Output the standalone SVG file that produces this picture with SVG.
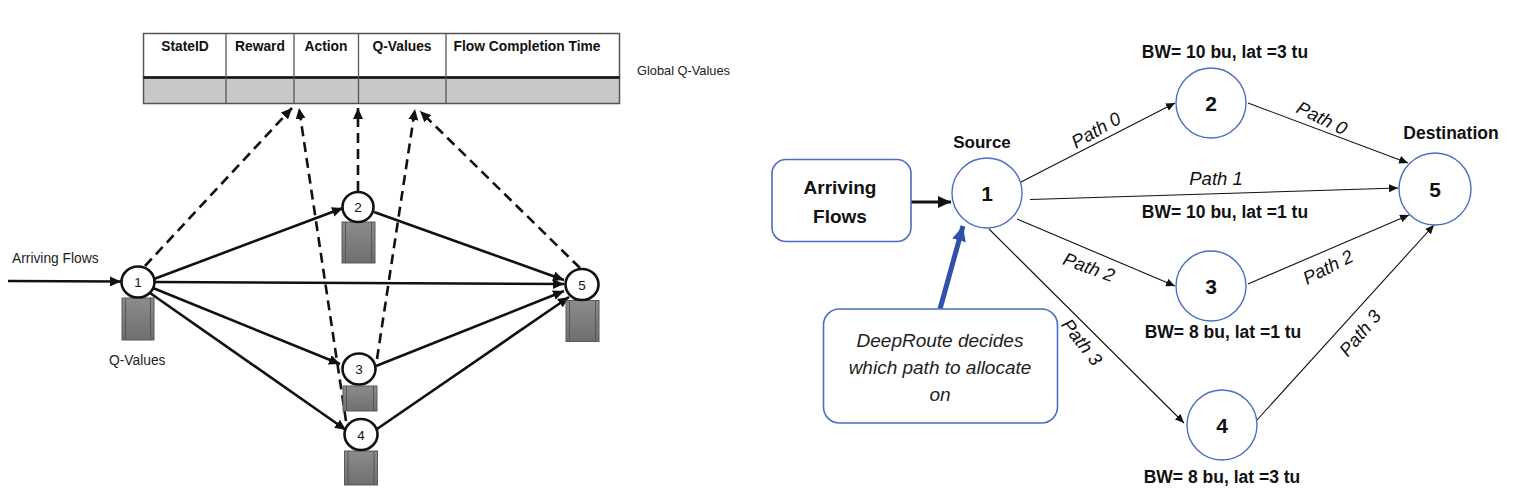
<svg xmlns="http://www.w3.org/2000/svg" width="1516" height="498" viewBox="0 0 1516 498">
<style>
.lt{font-family:"Liberation Sans",Arial,sans-serif;fill:#222}
.hdr{font-family:"Liberation Sans",Arial,sans-serif;font-weight:bold;font-size:13.8px;fill:#111;text-anchor:middle}
.ln{font-family:"Liberation Sans",Arial,sans-serif;font-size:13.5px;fill:#111;text-anchor:middle}
.lnode{fill:#fff;stroke:#111;stroke-width:2.6}
.queue{fill:url(#qg);stroke:#5a5a5a;stroke-width:1}
.qline{stroke:#555;stroke-width:1}
.solid{stroke:#111;stroke-width:2.6;fill:none;marker-end:url(#ah)}
.dash{stroke:#111;stroke-width:2.6;fill:none;stroke-dasharray:10 6;marker-end:url(#ah)}
.rnode{fill:#fff;stroke:#4a6fc0;stroke-width:1.4}
.rnum{font-family:"Liberation Sans",Arial,sans-serif;font-weight:bold;font-size:21px;fill:#111;text-anchor:middle}
.bold{font-family:"Liberation Sans",Arial,sans-serif;font-weight:bold;fill:#111;text-anchor:middle}
.it{font-family:"Liberation Sans",Arial,sans-serif;font-style:italic;font-size:18.5px;fill:#111;text-anchor:middle;dominant-baseline:central}
.thin{stroke:#111;stroke-width:1.1;fill:none;marker-end:url(#sah)}
.rbox{fill:#fff;stroke:#4a6fc0;stroke-width:1.6}
</style>
<defs>
<linearGradient id="qg" x1="0" y1="0" x2="0" y2="1">
<stop offset="0" stop-color="#8c8c8c"/>
<stop offset="1" stop-color="#6e6e6e"/>
</linearGradient>
<marker id="ah" markerUnits="userSpaceOnUse" markerWidth="12" markerHeight="10" refX="11" refY="5" orient="auto">
<path d="M0,0 L11,5 L0,10 Z" fill="#111"/>
</marker>
<marker id="sah" markerUnits="userSpaceOnUse" markerWidth="10" markerHeight="8" refX="9" refY="4" orient="auto">
<path d="M0,0 L9,4 L0,8 Z" fill="#111"/>
</marker>
<marker id="bah" markerUnits="userSpaceOnUse" markerWidth="16" markerHeight="14" refX="15" refY="7" orient="auto">
<path d="M0,0 L15,7 L0,14 Z" fill="#2f52a8"/>
</marker>
<marker id="kah" markerUnits="userSpaceOnUse" markerWidth="14" markerHeight="12" refX="13" refY="6" orient="auto">
<path d="M0,0 L13,6 L0,12 Z" fill="#111"/>
</marker>
</defs>

<!-- LEFT DIAGRAM -->
<g id="qtable">
<rect x="143.5" y="33.5" width="476" height="44" fill="#fff" stroke="#555" stroke-width="1.5"/>
<rect x="143.5" y="77.5" width="476" height="26" fill="#c8c8c8" stroke="#555" stroke-width="1.5"/>
<line x1="143.5" y1="77.5" x2="619.5" y2="77.5" stroke="#111" stroke-width="2.5"/>
<g stroke="#555" stroke-width="1.3">
<line x1="226" y1="33.5" x2="226" y2="103.5"/>
<line x1="294" y1="33.5" x2="294" y2="103.5"/>
<line x1="358.5" y1="33.5" x2="358.5" y2="103.5"/>
<line x1="446" y1="33.5" x2="446" y2="103.5"/>
</g>
<text class="hdr" x="185" y="51">StateID</text>
<text class="hdr" x="260" y="51">Reward</text>
<text class="hdr" x="326" y="51">Action</text>
<text class="hdr" x="402" y="51">Q-Values</text>
<text class="hdr" x="527" y="51">Flow Completion Time</text>
</g>
<text class="lt" x="637" y="75" font-size="12.8">Global Q-Values</text>
<text class="lt" x="12" y="263" font-size="13.8">Arriving Flows</text>
<text class="lt" x="109" y="365" font-size="13.8">Q-Values</text>

<g id="left-connectors">
<line class="solid" x1="8" y1="281" x2="121" y2="281.5"/>
<line class="solid" x1="154" y1="279" x2="343" y2="208"/>
<line class="solid" x1="155" y1="282" x2="564" y2="284"/>
<line class="solid" x1="153" y1="288" x2="340" y2="364"/>
<line class="solid" x1="150" y1="293" x2="346" y2="430"/>
<line class="solid" x1="374" y1="212" x2="564" y2="280"/>
<line class="solid" x1="376" y1="366" x2="564" y2="291"/>
<line class="solid" x1="377" y1="429" x2="569" y2="297"/>
<line class="dash" x1="145" y1="266" x2="292" y2="108"/>
<line class="dash" x1="346" y1="421" x2="299" y2="108"/>
<line class="dash" x1="358" y1="191" x2="358" y2="108"/>
<line class="dash" x1="377" y1="359" x2="415" y2="109"/>
<line class="dash" x1="580" y1="268" x2="420" y2="111"/>
</g>

<g id="lnode1">
<rect class="queue" x="122" y="298" width="32" height="42"/>
<line class="qline" x1="125.5" y1="298" x2="125.5" y2="340"/><line class="qline" x1="150.5" y1="298" x2="150.5" y2="340"/>
<ellipse class="lnode" cx="138" cy="282" rx="16.5" ry="15.5"/>
<text class="ln" x="138" y="287">1</text>
</g>
<g id="lnode2">
<rect class="queue" x="342" y="222" width="33" height="41"/>
<line class="qline" x1="345.5" y1="222" x2="345.5" y2="263"/><line class="qline" x1="371.5" y1="222" x2="371.5" y2="263"/>
<ellipse class="lnode" cx="358" cy="207" rx="15.5" ry="15"/>
<text class="ln" x="358" y="212">2</text>
</g>
<g id="lnode3">
<rect class="queue" x="343" y="386" width="34" height="25"/>
<line class="qline" x1="346.5" y1="386" x2="346.5" y2="411"/><line class="qline" x1="373.5" y1="386" x2="373.5" y2="411"/>
<ellipse class="lnode" cx="359" cy="369" rx="16.5" ry="15.5"/>
<text class="ln" x="359" y="374">3</text>
</g>
<g id="lnode4">
<rect class="queue" x="344.5" y="451" width="33" height="34"/>
<line class="qline" x1="348" y1="451" x2="348" y2="485"/><line class="qline" x1="374" y1="451" x2="374" y2="485"/>
<ellipse class="lnode" cx="361" cy="434.5" rx="16.5" ry="15.5"/>
<text class="ln" x="361" y="439.5">4</text>
</g>
<g id="lnode5">
<rect class="queue" x="566" y="300.5" width="33" height="41"/>
<line class="qline" x1="569.5" y1="300.5" x2="569.5" y2="341.5"/><line class="qline" x1="595.5" y1="300.5" x2="595.5" y2="341.5"/>
<ellipse class="lnode" cx="582" cy="284.5" rx="16.5" ry="15.5"/>
<text class="ln" x="582" y="289.5">5</text>
</g>

<!-- RIGHT DIAGRAM -->
<g id="right-connectors">
<line x1="904" y1="202" x2="951" y2="202" stroke="#111" stroke-width="3.2" marker-end="url(#kah)"/>
<line x1="940" y1="309" x2="963" y2="226" stroke="#2f52a8" stroke-width="5" marker-end="url(#bah)"/>
<line class="thin" x1="1017" y1="184" x2="1175" y2="103"/>
<line class="thin" x1="1248" y1="103" x2="1408" y2="163"/>
<line class="thin" x1="1030" y1="199.5" x2="1398" y2="188"/>
<line class="thin" x1="1017" y1="219" x2="1175" y2="286"/>
<line class="thin" x1="1248" y1="284" x2="1409" y2="215"/>
<line class="thin" x1="989" y1="229" x2="1184" y2="423"/>
<line class="thin" x1="1257" y1="420" x2="1434" y2="225"/>
<text class="it" transform="translate(1096,130) rotate(-30)">Path 0</text>
<text class="it" transform="translate(1322,118) rotate(26)">Path 0</text>
<text class="it" x="1216" y="178">Path 1</text>
<text class="it" transform="translate(1089,267) rotate(20)">Path 2</text>
<text class="it" transform="translate(1328,267) rotate(-27)">Path 2</text>
<text class="it" transform="translate(1082,342) rotate(52)">Path 3</text>
<text class="it" transform="translate(1360,333) rotate(-50)">Path 3</text>
<text class="bold" x="1225" y="218" font-size="17.5">BW= 10 bu, lat =1 tu</text>
</g>

<g id="arriving-box">
<rect class="rbox" x="772" y="159.5" width="139" height="82" rx="14"/>
<text class="bold" x="840" y="194" font-size="19">Arriving</text>
<text class="bold" x="840" y="223" font-size="19">Flows</text>
</g>
<g id="deeproute-box">
<rect class="rbox" x="823.5" y="309" width="234" height="114" rx="16"/>
<text class="lt" x="940" y="347" font-size="19" font-style="italic" text-anchor="middle" fill="#111">DeepRoute decides</text>
<text class="lt" x="940" y="374" font-size="19" font-style="italic" text-anchor="middle" fill="#111">which path to allocate</text>
<text class="lt" x="940" y="401" font-size="19" font-style="italic" text-anchor="middle" fill="#111">on</text>
</g>
<g id="rnode1">
<circle class="rnode" cx="987" cy="193" r="35"/>
<text class="rnum" x="987" y="201">1</text>
<text class="bold" x="982" y="148" font-size="17">Source</text>
</g>
<g id="rnode2">
<circle class="rnode" cx="1211" cy="103" r="35"/>
<text class="rnum" x="1211" y="111">2</text>
<text class="bold" x="1225" y="58" font-size="17.5">BW= 10 bu, lat =3 tu</text>
</g>
<g id="rnode3">
<circle class="rnode" cx="1211" cy="286" r="35"/>
<text class="rnum" x="1211" y="294">3</text>
<text class="bold" x="1223" y="338" font-size="17.5">BW= 8 bu, lat =1 tu</text>
</g>
<g id="rnode4">
<circle class="rnode" cx="1222" cy="425" r="35"/>
<text class="rnum" x="1222" y="433">4</text>
<text class="bold" x="1222" y="483" font-size="17.5">BW= 8 bu, lat =3 tu</text>
</g>
<g id="rnode5">
<circle class="rnode" cx="1435" cy="189" r="36"/>
<text class="rnum" x="1435" y="197">5</text>
<text class="bold" x="1451" y="139" font-size="17.5">Destination</text>
</g>
</svg>
